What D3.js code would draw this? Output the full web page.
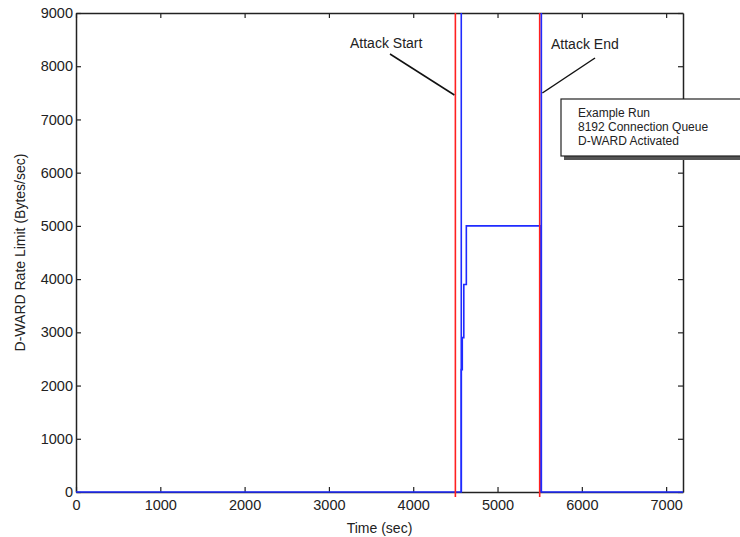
<!DOCTYPE html>
<html>
<head>
<meta charset="utf-8">
<script src="https://cdn.jsdelivr.net/npm/d3@7"></script>
<style>
  body { margin: 0; background: #fff; }
  text { font-family: "Liberation Sans", Arial, sans-serif; fill: #222; }
</style>
</head>
<body>
<script>
// rate limit series (time sec, bytes/sec)
const times = [0, 4570, 4570, 4582, 4582, 4600, 4600, 4630, 4630, 5505, 5505, 7200];
const rates = [0, 0, 2300, 2300, 2900, 2900, 3900, 3900, 5000, 5000, 0, 0];
const redMarks = [4500, 5500];
const blueMarks = [4570, 5520];
const xTicks = [0, 1000, 2000, 3000, 4000, 5000, 6000, 7000];
const yTicks = [0, 1000, 2000, 3000, 4000, 5000, 6000, 7000, 8000, 9000];
const noteLines = ["Example Run", "8192 Connection Queue", "D-WARD Activated"];

const W = 740, H = 537;
const m = { left: 76, right: 57, top: 13, bottom: 45 };

const svg = d3.select("body").append("svg").attr("width", W).attr("height", H);

const x = d3.scaleLinear().domain([0, 7200]).range([m.left, W - m.right]);
const y = d3.scaleLinear().domain([0, 9000]).range([H - m.bottom, m.top]);
const fmt = d3.format("d");

// axes with inward ticks, mirrored on top/right
function styleAxis(g) {
  g.selectAll("path").attr("stroke", "#222").attr("stroke-width", 1.5);
  g.selectAll("line").attr("stroke", "#222").attr("stroke-width", 1.2);
  g.selectAll("text").style("font-size", "14.5px").attr("fill", "#333");
}
svg.append("g").attr("transform", `translate(0,${y(0)})`)
  .call(d3.axisBottom(x).tickValues(xTicks).tickFormat(fmt).tickSizeInner(-5).tickSizeOuter(0).tickPadding(8))
  .call(styleAxis);
svg.append("g").attr("transform", `translate(0,${y(9000)})`)
  .call(d3.axisTop(x).tickValues(xTicks).tickSizeInner(-5).tickSizeOuter(0).tickFormat(""))
  .call(styleAxis);
svg.append("g").attr("transform", `translate(${x(0)},0)`)
  .call(d3.axisLeft(y).tickValues(yTicks).tickFormat(fmt).tickSizeInner(-5).tickSizeOuter(0).tickPadding(3))
  .call(styleAxis);
svg.append("g").attr("transform", `translate(${x(7200)},0)`)
  .call(d3.axisRight(y).tickValues(yTicks).tickSizeInner(-5).tickSizeOuter(0).tickFormat(""))
  .call(styleAxis);

// data line
const pts = times.map((t, i) => [t, rates[i]]);
svg.append("path").datum(pts)
  .attr("fill", "none").attr("stroke", "#1f2bff").attr("stroke-width", 1.6)
  .attr("d", d3.line().x(d => x(d[0])).y(d => y(d[1])));

// marker lines
svg.selectAll(".red").data(redMarks).enter().append("line")
  .attr("x1", d => x(d)).attr("x2", d => x(d))
  .attr("y1", y(9000)).attr("y2", y(0) + 5)
  .attr("stroke", "#ff2020").attr("stroke-width", 1.6);
svg.selectAll(".blue").data(blueMarks).enter().append("line")
  .attr("x1", d => x(d)).attr("x2", d => x(d))
  .attr("y1", y(9000)).attr("y2", y(0))
  .attr("stroke", "#1f2bff").attr("stroke-width", 1.6);

// annotations
svg.append("text").attr("x", 350).attr("y", 48)
  .style("font-size", "14px").text("Attack Start");
svg.append("line").attr("x1", 390).attr("y1", 54).attr("x2", x(redMarks[0]) - 1).attr("y2", 95)
  .attr("stroke", "#111").attr("stroke-width", 1.5);
svg.append("text").attr("x", 551).attr("y", 49)
  .style("font-size", "14px").text("Attack End");
svg.append("line").attr("x1", 595).attr("y1", 58).attr("x2", x(blueMarks[1]) + 1).attr("y2", 93)
  .attr("stroke", "#111").attr("stroke-width", 1.5);

// note box with shadow
svg.append("rect").attr("x", 564).attr("y", 102).attr("width", 200).attr("height", 58).attr("fill", "#555");
svg.append("rect").attr("x", 561).attr("y", 99).attr("width", 200).attr("height", 57)
  .attr("fill", "#fff").attr("stroke", "#222").attr("stroke-width", 1.2);
svg.append("g").selectAll("text").data(noteLines).enter().append("text")
  .attr("x", 578).attr("y", (d, i) => 117 + i * 14)
  .style("font-size", "12px").text(d => d);

// axis titles
svg.append("text").attr("x", (x(0) + x(7200)) / 2).attr("y", 533).attr("text-anchor", "middle")
  .style("font-size", "14px").text("Time (sec)");
svg.append("text").attr("transform", `translate(25,${(y(0) + y(9000)) / 2}) rotate(-90)`)
  .attr("text-anchor", "middle").style("font-size", "14px").text("D-WARD Rate Limit (Bytes/sec)");
</script>
</body>
</html>
